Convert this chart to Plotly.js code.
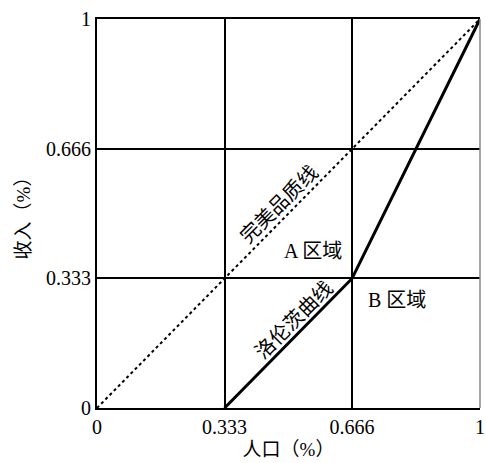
<!DOCTYPE html>
<html>
<head>
<meta charset="utf-8">
<script src="https://cdn.plot.ly/plotly-3.0.1.min.js"></script>
<style>html,body{margin:0;padding:0;background:#fff;}#chart{width:486px;height:463px;}</style>
</head>
<body>
<div id="chart"></div>
<script>
const tickVals = [0, 0.333, 0.666, 1];
const tickText = ["0", "0.333", "0.666", "1"];
const equalityX = [0, 1];
const equalityY = [0, 1];
const lorenzX = [0.333, 0.666, 1];
const lorenzY = [0, 0.333, 1];
const labelText = ["完美品质线", "洛伦茨曲线", "A 区域", "B 区域"];
const labelX = [0.476, 0.514, 0.563, 0.783];
const labelY = [0.524, 0.226, 0.404, 0.278];
const labelAngle = [-45, -45, 0, 0];

const serif = "Liberation Serif, serif";
const cjk = "Liberation Serif, Noto Sans CJK SC";

const traces = [
  {x: equalityX, y: equalityY, mode: "lines", line: {color: "#000", width: 2, dash: "dot"}, hoverinfo: "skip"},
  {x: lorenzX, y: lorenzY, mode: "lines", line: {color: "#000", width: 3}, hoverinfo: "skip"}
];

const annotations = labelText.map((t, i) => ({
  x: labelX[i], y: labelY[i], xref: "x", yref: "y", text: t, showarrow: false,
  textangle: labelAngle[i], font: {family: cjk, size: 20, color: "#000"}
}));

const layout = {
  width: 486, height: 463,
  margin: {l: 97, r: 6, t: 19, b: 55},
  paper_bgcolor: "#fff", plot_bgcolor: "#fff",
  showlegend: false,
  xaxis: {
    range: [0, 1], tickvals: tickVals, ticktext: tickText, ticks: "",
    showgrid: true, gridcolor: "#000", gridwidth: 2, zeroline: false,
    showline: true, linecolor: "#000", linewidth: 2, mirror: true,
    ticklabeloverflow: "allow",
    tickfont: {family: serif, size: 20, color: "#000"},
    title: {text: "人口（%）", font: {family: cjk, size: 19, color: "#000"}, standoff: 6}
  },
  yaxis: {
    range: [0, 1], tickvals: tickVals, ticktext: tickText, ticks: "",
    showgrid: true, gridcolor: "#000", gridwidth: 2, zeroline: false,
    showline: true, linecolor: "#000", linewidth: 2,
    ticklabeloverflow: "allow",
    tickfont: {family: serif, size: 20, color: "#000"},
    title: {text: "收入（%）", font: {family: cjk, size: 19, color: "#000"}, standoff: 10}
  },
  shapes: [
    {type: "line", xref: "paper", yref: "paper", x0: 1, x1: 1, y0: 0, y1: 1, line: {color: "#888", width: 1.5}}
  ],
  annotations: annotations
};

Plotly.newPlot("chart", traces, layout, {displayModeBar: false, staticPlot: true});
</script>
</body>
</html>
